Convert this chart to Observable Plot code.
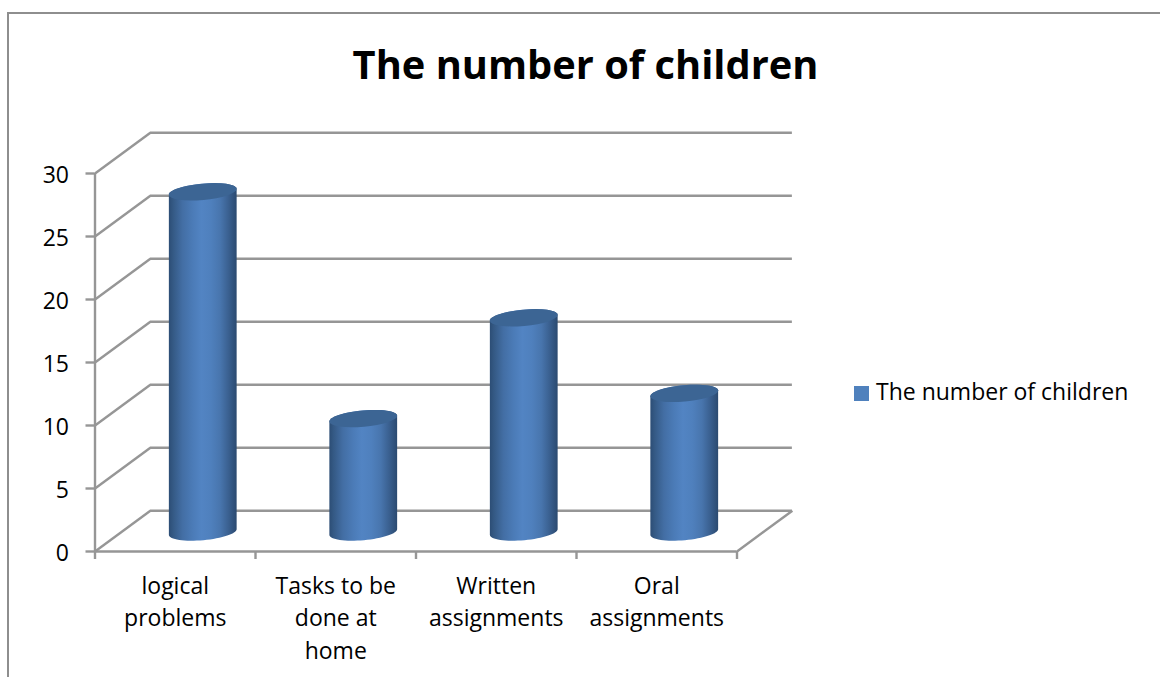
<!DOCTYPE html>
<html>
<head>
<meta charset="utf-8">
<script src="https://cdn.jsdelivr.net/npm/d3@7"></script>
<script src="https://cdn.jsdelivr.net/npm/@observablehq/plot@0.6"></script>
<style>
html,body{margin:0;padding:0;background:#fff;overflow:hidden;width:1160px;height:677px}
#wrap{position:relative;width:1160px;height:677px;font-family:"Open Sans",sans-serif;color:#000}
#frame{position:absolute;left:7px;top:12px;width:1160px;height:700px;border-left:2px solid #8e8e8e;border-top:2px solid #8e8e8e}
#title{position:absolute;left:0;width:1171px;top:36px;text-align:center;font-size:39.8px;font-weight:700;line-height:56px;margin:0}
#legend{position:absolute;left:854px;top:376px;font-size:23px;line-height:30px;white-space:nowrap}
#legend i{display:inline-block;width:15px;height:15px;background:#4f81bd;margin-right:7px;vertical-align:-1px}
#chart{position:absolute;left:0;top:0}
</style>
</head>
<body>
<div id="wrap">
<div id="chart"></div>
<div id="frame"></div>
<h1 id="title">The number of children</h1>
<div id="legend"><i></i>The number of children</div>
</div>
<script>
const categories = ["logical\nproblems", "Tasks to be\ndone at\nhome", "Written\nassignments", "Oral\nassignments"];
const values = [27, 9, 17, 11];
const yTicks = [0, 5, 10, 15, 20, 25, 30];
const xBoundaries = [0, 1, 2, 3, 4];

// Depth of the 3-D box expressed in data units
const depthX = 0.345, depthY = 3.24;
const rows = categories.map((label, i) => ({label, i, center: i + 0.5, value: values[i]}));

// Cylinder ends: a slightly tilted ellipse, sizes in data units
const RX = 0.212, RY = 0.65, TILT = -0.09, ASPECT = 160.5 / 12.6;
const C = Math.cos(TILT), S = Math.sin(TILT);
const steps = d3.range(0, 33).map(k => k / 32);
const rim = (cx, cy, t) => {
  const u = RX * Math.cos(t) * ASPECT / 1, v = RY * Math.sin(t);
  // rotate in a pixel-like frame: x units are stretched to match y units
  return {x: cx + (u * C - v * S) / ASPECT, y: cy - (u * S + v * C)};
};
// Whole outline of one cylinder: upper half of the top rim, then lower half of the base rim
const bodies = rows.flatMap(r => [
  ...steps.map(s => ({i: r.i, ...rim(r.center, r.value, Math.PI + s * Math.PI)})),
  ...steps.map(s => ({i: r.i, ...rim(r.center, 0, s * Math.PI)}))
]);
// Closed top rim of each cylinder
const caps = rows.flatMap(r =>
  steps.map(s => ({i: r.i, ...rim(r.center, r.value, s * 2 * Math.PI)}))
);

const defs = () => {
  const g = d3.create("svg:defs");
  const lin = g.append("linearGradient").attr("id", "cyl").attr("x1", 0).attr("x2", 1).attr("y1", 0).attr("y2", 0);
  [[0, "#2c4d75"], [0.06, "#345984"], [0.2, "#436ea4"], [0.35, "#4b7bb7"], [0.48, "#5284c3"], [0.62, "#4f80bd"], [0.76, "#4875ad"], [0.88, "#3a6090"], [1, "#2b4a70"]]
    .forEach(([o, c]) => lin.append("stop").attr("offset", o).attr("stop-color", c));
  return g.node();
};

const grid = {stroke: "#969696", strokeWidth: 2.4};
const barShift = {dx: 27.5, dy: -19.5};

const plot = Plot.plot({
  width: 1160, height: 677,
  marginLeft: 94.5, marginRight: 423.5, marginTop: 173, marginBottom: 126,
  style: {background: "transparent", fontFamily: "'Open Sans',sans-serif", color: "#000"},
  clip: false,
  x: {domain: [0, 4], axis: null},
  y: {domain: [0, 30], axis: null},
  marks: [
    defs,
    // back wall lines
    Plot.ruleY(yTicks, {x1: depthX, x2: 4 + depthX, y: d => d + depthY, ...grid}),
    // side wall lines
    Plot.link(yTicks, {x1: 0, x2: depthX, y1: d => d, y2: d => d + depthY, ...grid}),
    // floor right edge
    Plot.link([0], {x1: 4, x2: 4 + depthX, y1: 0, y2: depthY, ...grid}),
    // front axis lines
    Plot.ruleX([0], {y1: 0, y2: 30, ...grid}),
    Plot.ruleY([0], {x1: 0, x2: 4, ...grid}),
    // ticks
    Plot.axisX({ticks: xBoundaries, tickSize: 8, text: null, stroke: "#969696", strokeWidth: 2.4, anchor: "bottom", label: null}),
    Plot.axisY({ticks: yTicks, tickSize: 9, text: null, stroke: "#969696", strokeWidth: 2.4, anchor: "left", label: null}),
    // value labels
    Plot.axisY({ticks: yTicks, tickSize: 0, tickPadding: 26, dy: 2, fontSize: 23, color: "#000", anchor: "left", label: null}),
    // category labels
    Plot.text(rows, {x: "center", y: 0, text: "label", dy: 19, lineAnchor: "top", lineHeight: 1.42, fontSize: 23, fill: "#000"}),
    // cylinders: one seamless body and a darker cap
    Plot.line(bodies, {x: "x", y: "y", z: "i", fill: "url(#cyl)", stroke: "none", ...barShift}),
    Plot.line(caps, {x: "x", y: "y", z: "i", fill: "#3c6594", stroke: "none", ...barShift})
  ]
});
document.getElementById("chart").appendChild(plot);
</script>
</body>
</html>
